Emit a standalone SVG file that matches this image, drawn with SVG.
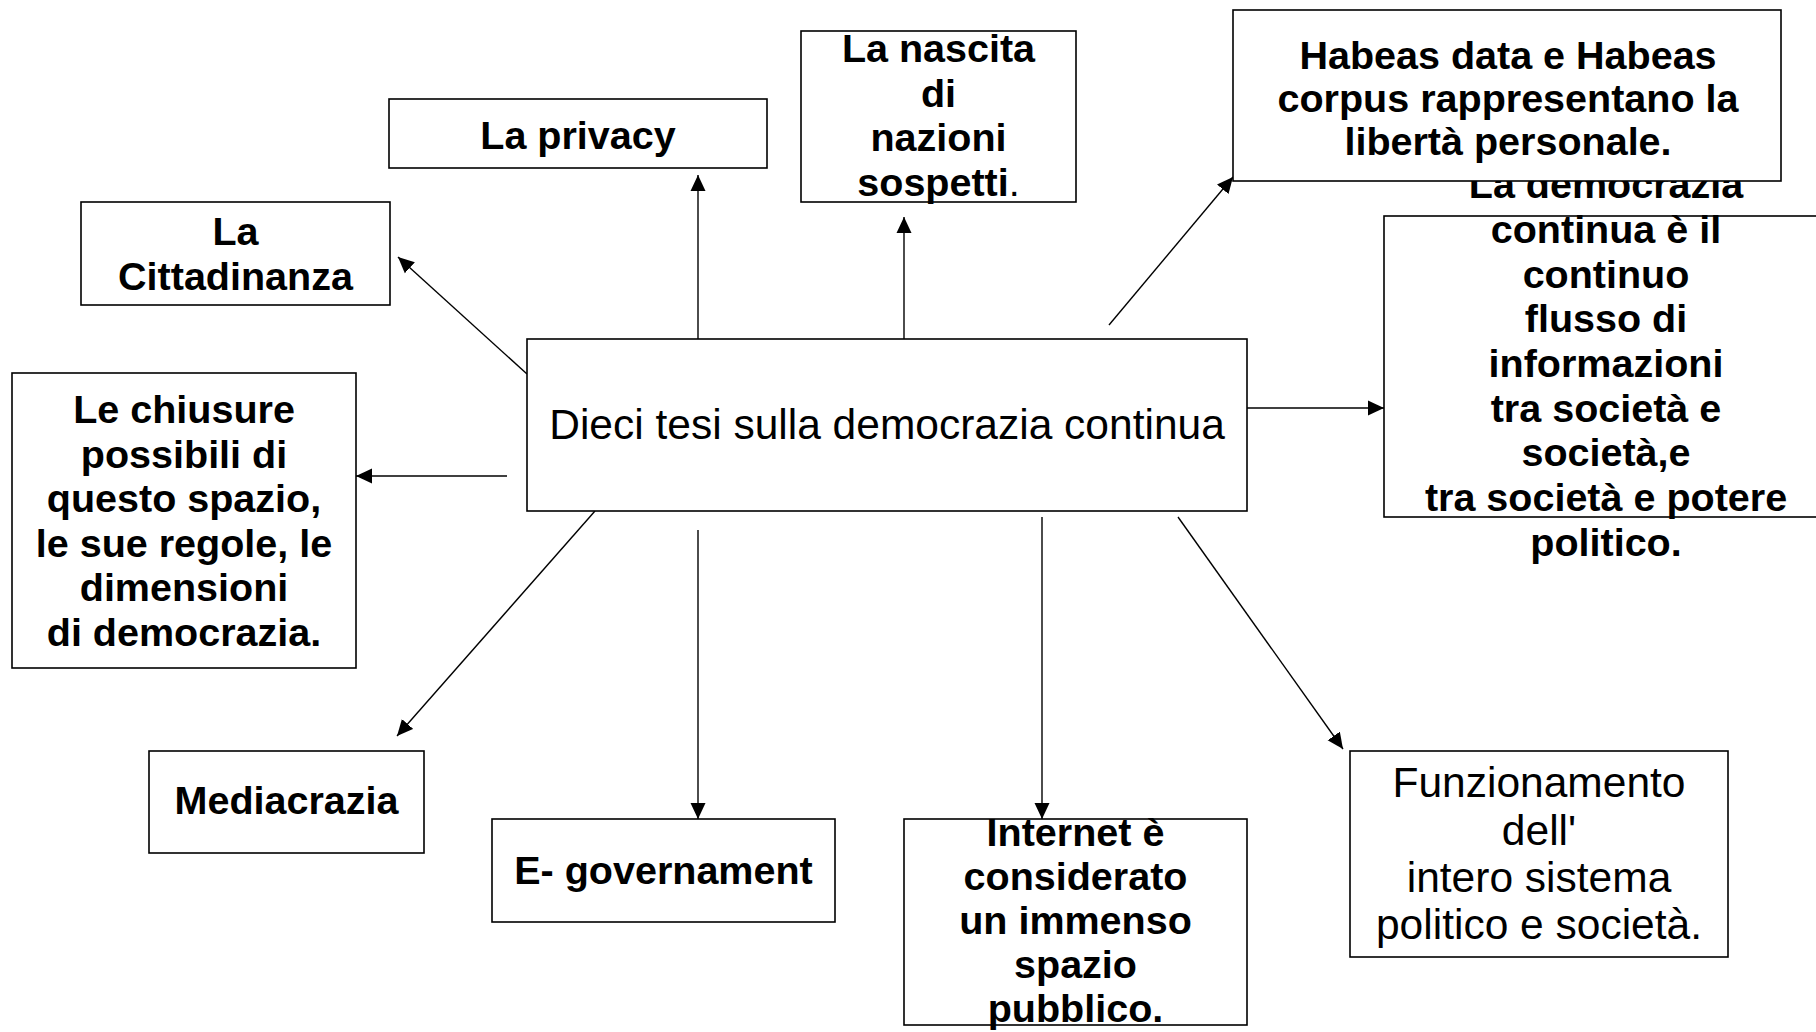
<svg xmlns="http://www.w3.org/2000/svg" width="1816" height="1032" viewBox="0 0 1816 1032">
<style>
.box{fill:#fff;stroke:#000;stroke-width:1.6}
.b{font-family:"Liberation Sans",Arial,sans-serif;font-weight:bold;font-size:39.5px;text-anchor:middle;fill:#000}
.r{font-family:"Liberation Sans",Arial,sans-serif;font-size:42.5px;text-anchor:middle;fill:#000}
.ln{stroke:#000;stroke-width:1.4;fill:none;marker-end:url(#arr)}
</style>
<defs>
<marker id="arr" markerUnits="userSpaceOnUse" markerWidth="16" markerHeight="16" viewBox="0 0 16 16" refX="16" refY="8" orient="auto">
<path d="M0,0.5 L16,8 L0,15.5 z" fill="#000"/>
</marker>
</defs>
<rect width="1816" height="1032" fill="#fff"/>
<g id="connectors">
<line class="ln" x1="698" y1="339" x2="698" y2="175"/>
<line class="ln" x1="904" y1="339" x2="904" y2="217"/>
<line class="ln" x1="1109" y1="325" x2="1233" y2="177"/>
<line class="ln" x1="1247" y1="408" x2="1384" y2="408"/>
<line class="ln" x1="1178" y1="517" x2="1343" y2="749"/>
<line class="ln" x1="1042" y1="517" x2="1042" y2="819"/>
<line class="ln" x1="698" y1="530" x2="698" y2="819"/>
<line class="ln" x1="595" y1="511" x2="397" y2="736"/>
<line class="ln" x1="507" y1="476" x2="356" y2="476"/>
<line class="ln" x1="527" y1="374" x2="398" y2="257"/>
</g>
<g id="n-central">
<rect class="box" x="527" y="339" width="720" height="172"/>
<text class="r" x="887" y="439">Dieci tesi sulla democrazia continua</text>
</g>
<g id="n-privacy">
<rect class="box" x="389" y="99" width="378" height="69"/>
<text class="b" x="578" y="149">La privacy</text>
</g>
<g id="n-nascita">
<rect class="box" x="801" y="31" width="275" height="171"/>
<text class="b" x="938.5" y="62">La nascita</text>
<text class="b" x="938.5" y="107">di</text>
<text class="b" x="938.5" y="151">nazioni</text>
<text class="b" x="938.5" y="196">sospetti<tspan font-weight="normal">.</tspan></text>
</g>
<g id="n-democrazia">
<rect class="box" x="1384" y="216" width="444" height="301"/>
<text class="b" x="1606" y="198">La democrazia</text>
<text class="b" x="1606" y="243">continua è il</text>
<text class="b" x="1606" y="288">continuo</text>
<text class="b" x="1606" y="332">flusso di</text>
<text class="b" x="1606" y="377">informazioni</text>
<text class="b" x="1606" y="422">tra società e</text>
<text class="b" x="1606" y="466">società,e</text>
<text class="b" x="1606" y="511">tra società e potere</text>
<text class="b" x="1606" y="556">politico.</text>
</g>
<g id="n-habeas">
<rect class="box" x="1233" y="10" width="548" height="171"/>
<text class="b" x="1508" y="69">Habeas data e Habeas</text>
<text class="b" x="1508" y="112">corpus rappresentano la</text>
<text class="b" x="1508" y="155">libertà personale.</text>
</g>
<g id="n-cittadinanza">
<rect class="box" x="81" y="202" width="309" height="103"/>
<text class="b" x="235.5" y="245">La</text>
<text class="b" x="235.5" y="290">Cittadinanza</text>
</g>
<g id="n-chiusure">
<rect class="box" x="12" y="373" width="344" height="295"/>
<text class="b" x="184" y="423">Le chiusure</text>
<text class="b" x="184" y="467.5">possibili di</text>
<text class="b" x="184" y="512">questo spazio,</text>
<text class="b" x="184" y="556.5">le sue regole, le</text>
<text class="b" x="184" y="601">dimensioni</text>
<text class="b" x="184" y="645.5">di democrazia.</text>
</g>
<g id="n-mediacrazia">
<rect class="box" x="149" y="751" width="275" height="102"/>
<text class="b" x="286.5" y="814">Mediacrazia</text>
</g>
<g id="n-egov">
<rect class="box" x="492" y="819" width="343" height="103"/>
<text class="b" x="663.5" y="884">E- governament</text>
</g>
<g id="n-internet">
<rect class="box" x="904" y="819" width="343" height="206"/>
<text class="b" x="1075.5" y="846">Internet è</text>
<text class="b" x="1075.5" y="890">considerato</text>
<text class="b" x="1075.5" y="934">un immenso</text>
<text class="b" x="1075.5" y="978">spazio</text>
<text class="b" x="1075.5" y="1022">pubblico.</text>
</g>
<g id="n-funz">
<rect class="box" x="1350" y="751" width="378" height="206"/>
<text class="r" x="1539" y="797">Funzionamento</text>
<text class="r" x="1539" y="844.5">dell'</text>
<text class="r" x="1539" y="892">intero sistema</text>
<text class="r" x="1539" y="939">politico e società.</text>
</g>
</svg>
